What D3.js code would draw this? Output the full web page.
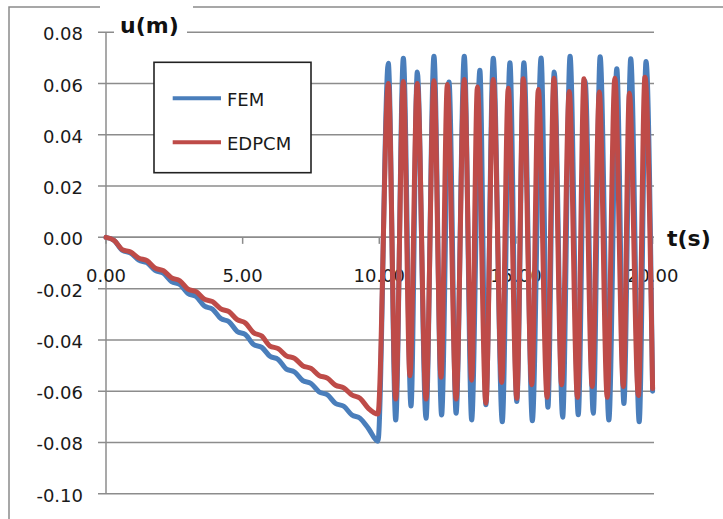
<!DOCTYPE html>
<html>
<head>
<meta charset="utf-8">
<style>
  html, body { margin: 0; padding: 0; background: #fff; }
  svg { display: block; }
  text { font-family: "DejaVu Sans", Verdana, sans-serif; }
</style>
</head>
<body>
<svg id="chart" width="723" height="519"></svg>
<script src="https://cdn.jsdelivr.net/npm/d3@7"></script>
<script>
// ramp phase (0 - 10 s), shared sample times
const rampTime = [0, 0.3, 0.6, 0.9, 1.2, 1.5, 1.8, 2.1, 2.4, 2.7, 3.0, 3.3, 3.6, 3.9, 4.2, 4.5,
  4.8, 5.1, 5.4, 5.7, 6.0, 6.3, 6.6, 6.9, 7.2, 7.5, 7.8, 8.1, 8.4, 8.7, 9.0, 9.3, 9.6, 9.95];

const feRamp = [0, -0.0012, -0.0051, -0.0061, -0.0089, -0.0099, -0.0129, -0.0140, -0.0173, -0.0184,
  -0.0219, -0.0231, -0.0268, -0.0280, -0.0317, -0.0329, -0.0367, -0.0379, -0.0418, -0.0429,
  -0.0464, -0.0476, -0.0514, -0.0525, -0.0559, -0.0570, -0.0603, -0.0614, -0.0648, -0.0659,
  -0.0693, -0.0706, -0.0745, -0.0795];

const edRamp = [0, -0.0012, -0.0048, -0.0057, -0.0081, -0.0091, -0.0120, -0.0130, -0.0158, -0.0169,
  -0.0202, -0.0212, -0.0241, -0.0251, -0.0279, -0.0290, -0.0321, -0.0334, -0.0372, -0.0385,
  -0.0424, -0.0434, -0.0462, -0.0472, -0.0501, -0.0511, -0.0539, -0.0549, -0.0577, -0.0587,
  -0.0615, -0.0628, -0.0667, -0.0689];

// free vibration phase (10 - 20 s): peaks and troughs
const feOscTime = [10.33, 10.60, 10.88, 11.16, 11.39, 11.71, 12.00, 12.28, 12.55, 12.81, 13.11, 13.38,
  13.68, 13.90, 14.17, 14.50, 14.78, 15.03, 15.29, 15.60, 15.92, 16.17, 16.40, 16.71, 16.98, 17.28,
  17.53, 17.83, 18.08, 18.40, 18.69, 18.95, 19.20, 19.51, 19.76, 20.00];
const feOsc = [0.0679, -0.0712, 0.0699, -0.0658, 0.0645, -0.0706, 0.0707, -0.0693, 0.0606, -0.0686,
  0.0707, -0.0712, 0.0652, -0.0653, 0.0699, -0.0719, 0.0681, -0.0640, 0.0681, -0.0715, 0.0700,
  -0.0663, 0.0645, -0.0702, 0.0707, -0.0692, 0.0610, -0.0686, 0.0705, -0.0712, 0.0658, -0.0648,
  0.0697, -0.0719, 0.0686, -0.0600];

const edOscTime = [10.33, 10.60, 10.88, 11.12, 11.39, 11.71, 12.00, 12.26, 12.49, 12.81, 13.11, 13.38,
  13.59, 13.90, 14.17, 14.48, 14.72, 15.03, 15.27, 15.58, 15.82, 16.14, 16.39, 16.67, 16.95, 17.25,
  17.49, 17.79, 18.05, 18.34, 18.62, 18.93, 19.15, 19.48, 19.72, 20.00];
const edOsc = [0.0600, -0.0631, 0.0608, -0.0540, 0.0600, -0.0631, 0.0611, -0.0546, 0.0596, -0.0631,
  0.0616, -0.0557, 0.0587, -0.0647, 0.0616, -0.0566, 0.0582, -0.0628, 0.0619, -0.0575, 0.0577,
  -0.0624, 0.0621, -0.0575, 0.0569, -0.0624, 0.0619, -0.0582, 0.0567, -0.0624, 0.0621, -0.0582,
  0.0562, -0.0617, 0.0625, -0.0590];

const yTicks = [0.08, 0.06, 0.04, 0.02, 0.00, -0.02, -0.04, -0.06, -0.08, -0.10];
const xTicks = [0, 5, 10, 15, 20];
const seriesNames = ["FEM", "EDPCM"];
const colors = ["#4A7EBB", "#BE4B48"];

const svg = d3.select("#chart");
const x = d3.scaleLinear().domain([0, 20]).range([106, 652.6]);
const y = d3.scaleLinear().domain([-0.1, 0.08]).range([493.7, 32.3]);

const series = [
  rampTime.concat(feOscTime).map((t, i) => [t, feRamp.concat(feOsc)[i]]),
  rampTime.concat(edOscTime).map((t, i) => [t, edRamp.concat(edOsc)[i]])
];

// outer chart frame (only left and top edges are in view)
svg.append("path")
  .attr("d", "M9,519 L9,7 L723,7")
  .attr("fill", "none").attr("stroke", "#8a8a8a").attr("stroke-width", 1.5);

// horizontal gridlines with tick stubs
svg.append("g").selectAll("line").data(yTicks).join("line")
  .attr("x1", 98).attr("x2", 654)
  .attr("y1", d => y(d)).attr("y2", d => y(d))
  .attr("stroke", "#8c8c8c").attr("stroke-width", 1.5);

// white box behind the y title
svg.append("rect").attr("x", 100).attr("y", 0).attr("width", 93).attr("height", 29).attr("fill", "#fff");
svg.append("rect").attr("x", 114).attr("y", 29).attr("width", 73).attr("height", 7).attr("fill", "#fff");

// axes
svg.append("line").attr("x1", x(0)).attr("x2", x(0)).attr("y1", y(0.08)).attr("y2", y(-0.1))
  .attr("stroke", "#8c8c8c").attr("stroke-width", 1.5);
svg.append("line").attr("x1", x(0)).attr("x2", 654).attr("y1", y(0)).attr("y2", y(0))
  .attr("stroke", "#8c8c8c").attr("stroke-width", 1.5);
svg.append("g").selectAll("line").data(xTicks).join("line")
  .attr("x1", d => x(d)).attr("x2", d => x(d))
  .attr("y1", y(0)).attr("y2", y(0) + 6.5)
  .attr("stroke", "#8c8c8c").attr("stroke-width", 1.5);

// tick labels (plain hyphen for negatives, as in the original)
svg.append("g").selectAll("text").data(yTicks).join("text")
  .attr("x", 83).attr("y", d => y(d) + 8)
  .attr("text-anchor", "end").attr("font-size", 18).attr("fill", "#1a1a1a")
  .text(d => d.toFixed(2));
svg.append("g").selectAll("text").data(xTicks).join("text")
  .attr("x", d => x(d)).attr("y", 282)
  .attr("text-anchor", "middle").attr("font-size", 18).attr("fill", "#1a1a1a")
  .text(d => d.toFixed(2));

// data lines
const line = d3.line().x(d => x(d[0])).y(d => y(d[1])).curve(d3.curveMonotoneX);
svg.append("g").selectAll("path").data(series).join("path")
  .attr("d", line)
  .attr("fill", "none")
  .attr("stroke", (d, i) => colors[i])
  .attr("stroke-width", 5)
  .attr("stroke-linejoin", "round")
  .attr("stroke-linecap", "round");

// legend
const lg = svg.append("g");
lg.append("rect").attr("x", 154).attr("y", 62.3).attr("width", 157).attr("height", 110.4)
  .attr("fill", "#fff").attr("stroke", "#222").attr("stroke-width", 1.6);
seriesNames.forEach((name, i) => {
  const ly = 98.3 + i * 44;
  lg.append("line").attr("x1", 172.7).attr("x2", 221).attr("y1", ly).attr("y2", ly)
    .attr("stroke", colors[i]).attr("stroke-width", 4);
  lg.append("text").attr("x", 227).attr("y", ly + 7.5)
    .attr("font-size", 18).attr("fill", "#1a1a1a").text(name);
});

// axis titles
svg.append("text").attr("x", 120).attr("y", 33).attr("font-size", 22).attr("font-weight", "bold")
  .attr("fill", "#111").text("u(m)");
svg.append("text").attr("x", 667).attr("y", 246).attr("font-size", 22).attr("font-weight", "bold")
  .attr("fill", "#111").text("t(s)");
</script>
</body>
</html>
